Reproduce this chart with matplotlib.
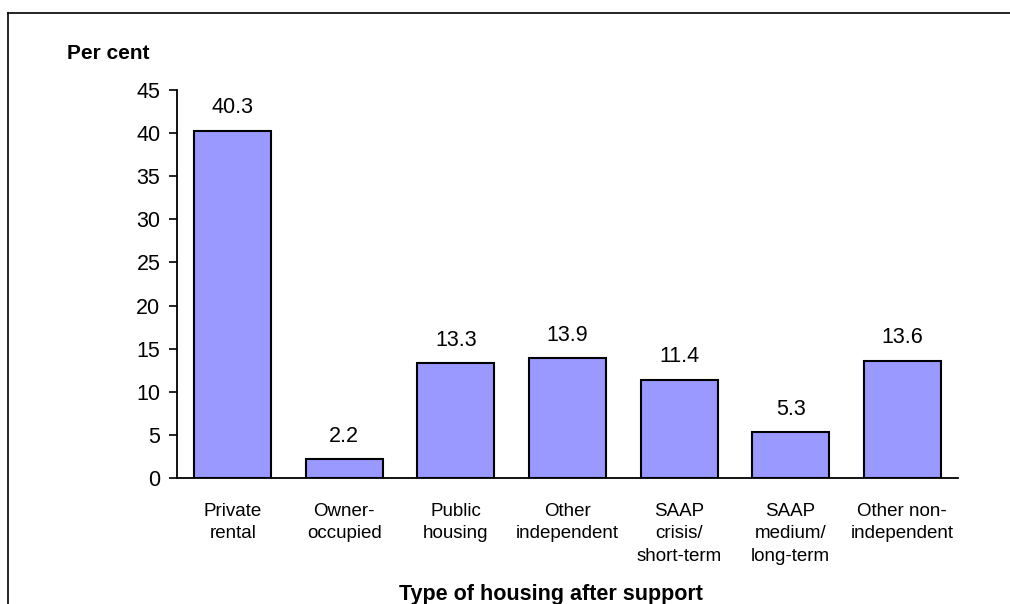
import matplotlib.pyplot as plt
from matplotlib.lines import Line2D

plt.rcParams['font.family'] = ['Liberation Sans', 'DejaVu Sans']

categories = ["Private\nrental", "Owner-\noccupied", "Public\nhousing", "Other\nindependent",
              "SAAP\ncrisis/\nshort-term", "SAAP\nmedium/\nlong-term", "Other non-\nindependent"]
values = [40.3, 2.2, 13.3, 13.9, 11.4, 5.3, 13.6]

fig = plt.figure(figsize=(10.1, 6.04), dpi=100)
ax = fig.add_axes([0.1752, 0.2086, 0.7733, 0.6424])

x = range(len(categories))
ax.bar(x, values, width=0.69, color='#9999FF', edgecolor='black', linewidth=1.5)
for xi, v in zip(x, values):
    ax.annotate(f"{v:.1f}", (xi, v), xytext=(0, 9), textcoords='offset points',
                ha='center', va='bottom', fontsize=15.5)

ax.set_xlim(-0.5, len(categories) - 0.5)
ax.set_ylim(0, 45)
ax.set_yticks(range(0, 46, 5))
ax.tick_params(axis='y', labelsize=15.5, length=6, width=1.2, direction='out', pad=6)
ax.set_xticks(list(x))
ax.set_xticklabels(categories, fontsize=13.5, linespacing=1.42, va='top')
ax.tick_params(axis='x', length=0, pad=18)
for s in ['top', 'right']:
    ax.spines[s].set_visible(False)
ax.spines['left'].set_linewidth(1.3)
ax.spines['bottom'].set_linewidth(1.3)

fig.text(0.066, 0.912, "Per cent", fontsize=15, fontweight='bold', ha='left', va='center')
fig.text(0.545, 0.016, "Type of housing after support", fontsize=15.5, fontweight='bold',
         ha='center', va='center')

# outer frame (top and left edges)
fig.add_artist(Line2D([0.008, 1.0], [0.978, 0.978], color='black', linewidth=1.2, transform=fig.transFigure))
fig.add_artist(Line2D([0.008, 0.008], [0.0, 0.978], color='black', linewidth=1.2, transform=fig.transFigure))

fig.savefig("out.png", dpi=100)
